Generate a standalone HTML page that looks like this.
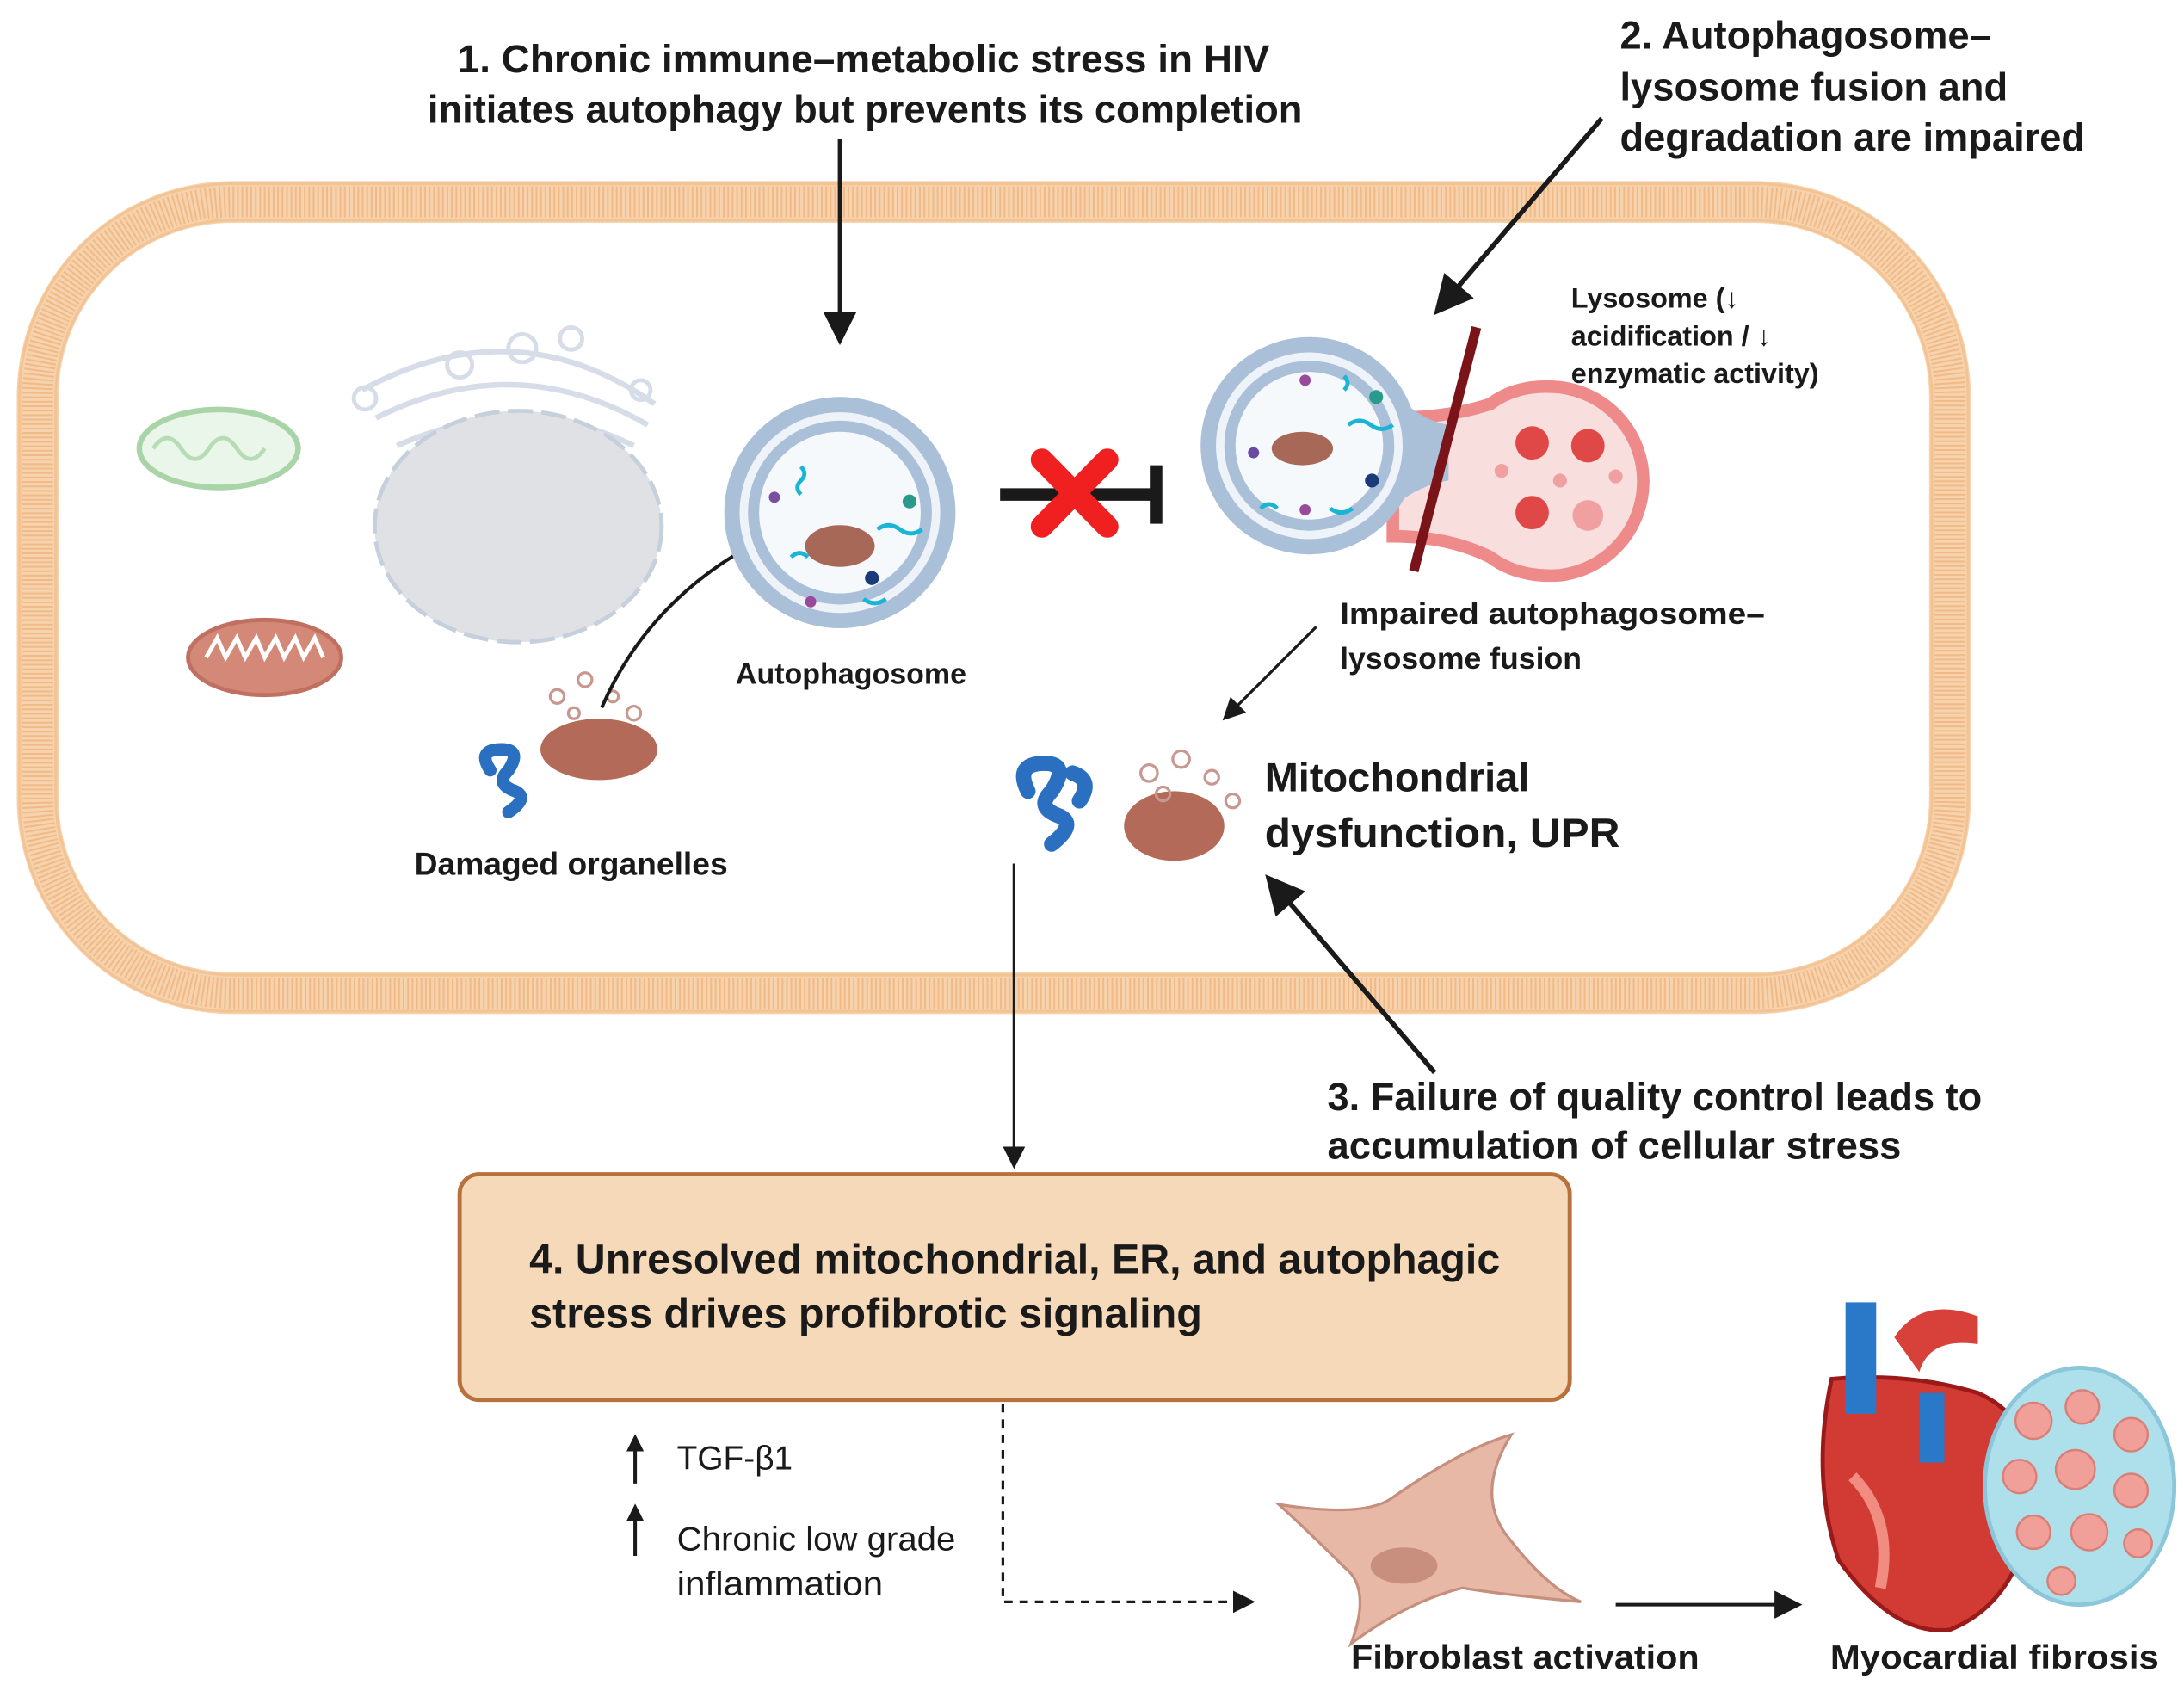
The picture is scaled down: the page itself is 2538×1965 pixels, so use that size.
<!DOCTYPE html>
<html><head><meta charset="utf-8"><style>
html,body{margin:0;padding:0;background:#fff;}
svg{display:block;}
text{font-family:"Liberation Sans",sans-serif;font-weight:bold;fill:#1a1a1a;}
</style></head><body>
<svg width="2538" height="1965" viewBox="0 0 1568 1214" preserveAspectRatio="none" xmlns="http://www.w3.org/2000/svg">
<defs>
<marker id="ah" viewBox="0 0 10 10" refX="8" refY="5" markerWidth="5" markerHeight="5" orient="auto"><path d="M0,0 L10,5 L0,10 z" fill="#1a1a1a"/></marker>
<marker id="ah2" viewBox="0 0 10 10" refX="8" refY="5" markerWidth="8" markerHeight="8" orient="auto"><path d="M0,0 L10,5 L0,10 z" fill="#1a1a1a"/></marker>
</defs>
<!-- membrane -->
<rect x="27" y="145" width="1373" height="568" rx="140" fill="none" stroke="#f6d2ad" stroke-width="30"/>
<rect x="27" y="145" width="1373" height="568" rx="140" fill="none" stroke="#f0b986" stroke-width="22" stroke-dasharray="1.2 2"/>
<rect x="14" y="132" width="1399" height="594" rx="152" fill="none" stroke="#f3c394" stroke-width="2"/>
<rect x="40" y="158" width="1347" height="542" rx="128" fill="none" stroke="#f3c394" stroke-width="2"/>

<!-- text 1 -->
<text x="620" y="52" font-size="28" text-anchor="middle" textLength="583" lengthAdjust="spacingAndGlyphs">1. Chronic immune–metabolic stress in HIV</text>
<text x="621" y="88" font-size="28" text-anchor="middle" textLength="628" lengthAdjust="spacingAndGlyphs">initiates autophagy but prevents its completion</text>
<line x1="603" y1="100" x2="603" y2="243" stroke="#1a1a1a" stroke-width="3" marker-end="url(#ah2)"/>

<!-- text 2 -->
<text x="1163" y="35" font-size="28">2. Autophagosome–</text>
<text x="1163" y="72" font-size="28">lysosome fusion and</text>
<text x="1163" y="108" font-size="28" textLength="334" lengthAdjust="spacingAndGlyphs">degradation are impaired</text>
<line x1="1150" y1="85" x2="1033" y2="222" stroke="#1a1a1a" stroke-width="3.5" marker-end="url(#ah2)"/>

<!-- left organelles -->
<ellipse cx="157" cy="322" rx="57" ry="28" fill="#eaf6ea" stroke="#a8d4a8" stroke-width="4"/>
<path d="M110,322 q10,-15 20,0 q10,15 20,0 q10,-15 20,0 q10,15 20,0" fill="none" stroke="#b6dcb6" stroke-width="3"/>
<ellipse cx="190" cy="472" rx="55" ry="27" fill="#d48878" stroke="#c07060" stroke-width="3"/>
<path d="M148,472 l8,-14 l6,14 l8,-14 l6,14 l8,-14 l6,14 l8,-14 l6,14 l8,-14 l6,14 l8,-14 l6,14" fill="none" stroke="#fff" stroke-width="3"/>
<path d="M260,280 q110,-60 210,10 M270,300 q100,-50 195,5 M285,320 q90,-40 170,0" fill="none" stroke="#d6dde8" stroke-width="4"/>
<circle cx="375" cy="250" r="10" fill="none" stroke="#d6dde8" stroke-width="3"/>
<circle cx="410" cy="243" r="8" fill="none" stroke="#d6dde8" stroke-width="3"/>
<circle cx="330" cy="262" r="9" fill="none" stroke="#d6dde8" stroke-width="3"/>
<circle cx="262" cy="286" r="8" fill="none" stroke="#d6dde8" stroke-width="3"/>
<circle cx="460" cy="280" r="7" fill="none" stroke="#d6dde8" stroke-width="3"/>
<ellipse cx="372" cy="378" rx="103" ry="83" fill="#dfe1e4" stroke="#c6d0dc" stroke-width="3" stroke-dasharray="18 6"/>

<!-- damaged organelles -->
<ellipse cx="430" cy="538" rx="42" ry="22" fill="#b46a58"/>
<g fill="none" stroke="#c89890" stroke-width="2"><circle cx="400" cy="500" r="5"/><circle cx="420" cy="488" r="5"/><circle cx="440" cy="500" r="4"/><circle cx="455" cy="512" r="5"/><circle cx="412" cy="512" r="4"/></g>
<path d="M352,553 q-10,-15 8,-15 q15,0 5,15 q-10,10 5,15 q10,5 -5,15" fill="none" stroke="#2a6fc0" stroke-width="9" stroke-linecap="round"/>
<text x="410" y="628" font-size="23" text-anchor="middle">Damaged organelles</text>
<path d="M432,508 Q470,420 567,378" fill="none" stroke="#1a1a1a" stroke-width="2.5" marker-end="url(#ah2)"/>

<!-- autophagosome -->
<circle cx="603" cy="368" r="83" fill="#aabfd8"/>
<circle cx="603" cy="368" r="72" fill="#eef3f9"/>
<circle cx="603" cy="368" r="66" fill="#aabfd8"/>
<circle cx="603" cy="368" r="58" fill="#f5f9fc"/>
<ellipse cx="603" cy="392" rx="25" ry="15" fill="#a86858"/>
<g><circle cx="556" cy="357" r="4" fill="#7a4fa0"/><circle cx="653" cy="360" r="5" fill="#2a9a8a"/><circle cx="626" cy="415" r="5" fill="#1a3a7a"/><circle cx="582" cy="432" r="4" fill="#9a4a9a"/></g>
<path d="M575,335 q5,5 0,10 q-5,5 0,10 M630,380 q8,-6 16,0 q8,6 16,0 M568,400 q6,-6 12,0 M620,430 q8,6 16,0" fill="none" stroke="#1ab4d4" stroke-width="3"/>
<text x="611" y="491" font-size="21" text-anchor="middle">Autophagosome</text>

<!-- inhibition -->
<line x1="718" y1="355" x2="830" y2="355" stroke="#1a1a1a" stroke-width="9"/>
<line x1="830" y1="334" x2="830" y2="376" stroke="#1a1a1a" stroke-width="9"/>
<path d="M748,330 L795,378 M795,330 L748,378" stroke="#f02020" stroke-width="16" stroke-linecap="round"/>

<!-- fusion -->
<path d="M1000,300 Q1040,300 1070,290 Q1090,275 1120,278 A68,68 0 0 1 1120,413 Q1090,415 1070,400 Q1040,385 1000,385 z" fill="#f9dede" stroke="#ee8a8a" stroke-width="9"/>
<circle cx="940" cy="320" r="78" fill="#aabfd8"/>
<path d="M990,265 Q1010,300 1040,305 L1040,345 Q1010,350 990,375 z" fill="#aabfd8"/>
<circle cx="940" cy="320" r="67" fill="#eef3f9"/>
<circle cx="940" cy="320" r="61" fill="#aabfd8"/>
<circle cx="940" cy="320" r="53" fill="#f5f9fc"/>
<ellipse cx="935" cy="322" rx="22" ry="12" fill="#a86858"/>
<g><circle cx="937" cy="273" r="4" fill="#9a4a9a"/><circle cx="988" cy="285" r="5" fill="#2a9a8a"/><circle cx="900" cy="325" r="4" fill="#6a4aa0"/><circle cx="985" cy="345" r="5" fill="#1a3a7a"/><circle cx="937" cy="366" r="4" fill="#9a4a9a"/></g>
<path d="M965,270 q5,5 0,10 M968,305 q8,-6 16,0 q8,6 16,0 M905,365 q6,-6 12,0 M955,365 q8,6 16,0" fill="none" stroke="#1ab4d4" stroke-width="3"/>
<g fill="#e04848"><circle cx="1100" cy="318" r="12"/><circle cx="1140" cy="320" r="12"/><circle cx="1100" cy="368" r="12"/><circle cx="1140" cy="370" r="11" fill="#f0a0a0"/><circle cx="1078" cy="338" r="5" fill="#f0a0a0"/><circle cx="1120" cy="345" r="5" fill="#f0a0a0"/><circle cx="1160" cy="342" r="5" fill="#f0a0a0"/></g>
<line x1="1060" y1="235" x2="1015" y2="410" stroke="#7a1418" stroke-width="7"/>
<text x="1128" y="221" font-size="20">Lysosome (↓</text>
<text x="1128" y="248" font-size="20">acidification / ↓</text>
<text x="1128" y="275" font-size="20">enzymatic activity)</text>
<text x="962" y="448" font-size="22" textLength="305" lengthAdjust="spacingAndGlyphs">Impaired autophagosome–</text>
<text x="962" y="480" font-size="22">lysosome fusion</text>
<line x1="945" y1="450" x2="880" y2="515" stroke="#1a1a1a" stroke-width="2" marker-end="url(#ah2)"/>

<!-- mito dysfunction -->
<ellipse cx="843" cy="593" rx="36" ry="25" fill="#b46a58"/>
<g fill="none" stroke="#c89890" stroke-width="2"><circle cx="825" cy="555" r="6"/><circle cx="848" cy="545" r="6"/><circle cx="870" cy="558" r="5"/><circle cx="885" cy="575" r="5"/><circle cx="835" cy="570" r="5"/></g>
<path d="M738,568 q-10,-20 12,-20 q18,0 5,20 q-12,12 6,18 q12,6 -6,20 M770,555 q15,5 5,20" fill="none" stroke="#2a6fc0" stroke-width="11" stroke-linecap="round"/>
<text x="908" y="568" font-size="29">Mitochondrial</text>
<text x="908" y="608" font-size="29" textLength="255" lengthAdjust="spacingAndGlyphs">dysfunction,  UPR</text>
<line x1="1030" y1="770" x2="912" y2="632" stroke="#1a1a1a" stroke-width="3.5" marker-end="url(#ah2)"/>
<text x="953" y="797" font-size="28" textLength="470" lengthAdjust="spacingAndGlyphs">3. Failure of quality control leads to</text>
<text x="953" y="832" font-size="28" textLength="412" lengthAdjust="spacingAndGlyphs">accumulation of cellular stress</text>

<line x1="728" y1="620" x2="728" y2="836" stroke="#1a1a1a" stroke-width="2" marker-end="url(#ah2)"/>

<!-- box -->
<rect x="330" y="843" width="797" height="162" rx="14" fill="#f5d9b8" stroke="#b8713c" stroke-width="3"/>
<text x="380" y="914" font-size="30" textLength="697" lengthAdjust="spacingAndGlyphs">4. Unresolved mitochondrial, ER, and autophagic</text>
<text x="380" y="953" font-size="30" textLength="483" lengthAdjust="spacingAndGlyphs">stress drives profibrotic signaling</text>

<!-- bottom -->
<line x1="456" y1="1065" x2="456" y2="1032" stroke="#1a1a1a" stroke-width="2.5" marker-end="url(#ah)"/>
<text x="486" y="1055" font-size="24" font-weight="normal" style="font-weight:normal">TGF-β1</text>
<line x1="456" y1="1117" x2="456" y2="1082" stroke="#1a1a1a" stroke-width="2.5" marker-end="url(#ah)"/>
<text x="486" y="1113" font-size="24" style="font-weight:normal" textLength="200" lengthAdjust="spacingAndGlyphs">Chronic low grade</text>
<text x="486" y="1145" font-size="24" style="font-weight:normal" textLength="148" lengthAdjust="spacingAndGlyphs">inflammation</text>
<path d="M720,1008 L720,1150 L898,1150" fill="none" stroke="#1a1a1a" stroke-width="2" stroke-dasharray="6 5" marker-end="url(#ah2)"/>

<path d="M918,1080 Q980,1090 1000,1075 Q1050,1040 1085,1030 Q1060,1070 1080,1100 Q1110,1140 1135,1150 Q1080,1145 1050,1140 Q1010,1150 970,1180 Q985,1140 965,1125 Q940,1100 918,1080 z" fill="#e7b8a6" stroke="#c68e7c" stroke-width="2"/>
<ellipse cx="1008" cy="1124" rx="24" ry="13" fill="#c98f7e"/>
<text x="1095" y="1198" font-size="24" text-anchor="middle" textLength="250" lengthAdjust="spacingAndGlyphs">Fibroblast activation</text>
<line x1="1160" y1="1152" x2="1290" y2="1152" stroke="#1a1a1a" stroke-width="2.5" marker-end="url(#ah2)"/>

<!-- heart -->
<path d="M1315,990 Q1300,1060 1320,1120 Q1360,1175 1400,1170 Q1450,1150 1460,1080 Q1465,1020 1420,1000 Q1370,985 1315,990 z" fill="#d23a34" stroke="#9a1a1a" stroke-width="3"/>
<rect x="1325" y="935" width="22" height="80" fill="#2a78c8"/>
<path d="M1360,960 Q1380,930 1420,945 L1420,965 Q1385,960 1378,985 z" fill="#d8403a"/>
<rect x="1378" y="1000" width="18" height="50" fill="#2a78c8"/>
<path d="M1330,1060 Q1360,1090 1350,1140" fill="none" stroke="#f08c80" stroke-width="8"/>
<ellipse cx="1493" cy="1067" rx="68" ry="85" fill="#aee0ec" stroke="#8cc6da" stroke-width="3"/>
<g fill="#f0a098" stroke="#d88078" stroke-width="1.5"><circle cx="1460" cy="1020" r="13"/><circle cx="1495" cy="1010" r="12"/><circle cx="1530" cy="1030" r="12"/><circle cx="1450" cy="1060" r="12"/><circle cx="1490" cy="1055" r="14"/><circle cx="1530" cy="1070" r="12"/><circle cx="1460" cy="1100" r="12"/><circle cx="1500" cy="1100" r="13"/><circle cx="1535" cy="1108" r="10"/><circle cx="1480" cy="1135" r="10"/></g>
<text x="1432" y="1198" font-size="24" text-anchor="middle" textLength="236" lengthAdjust="spacingAndGlyphs">Myocardial fibrosis</text>
</svg>
</body></html>
